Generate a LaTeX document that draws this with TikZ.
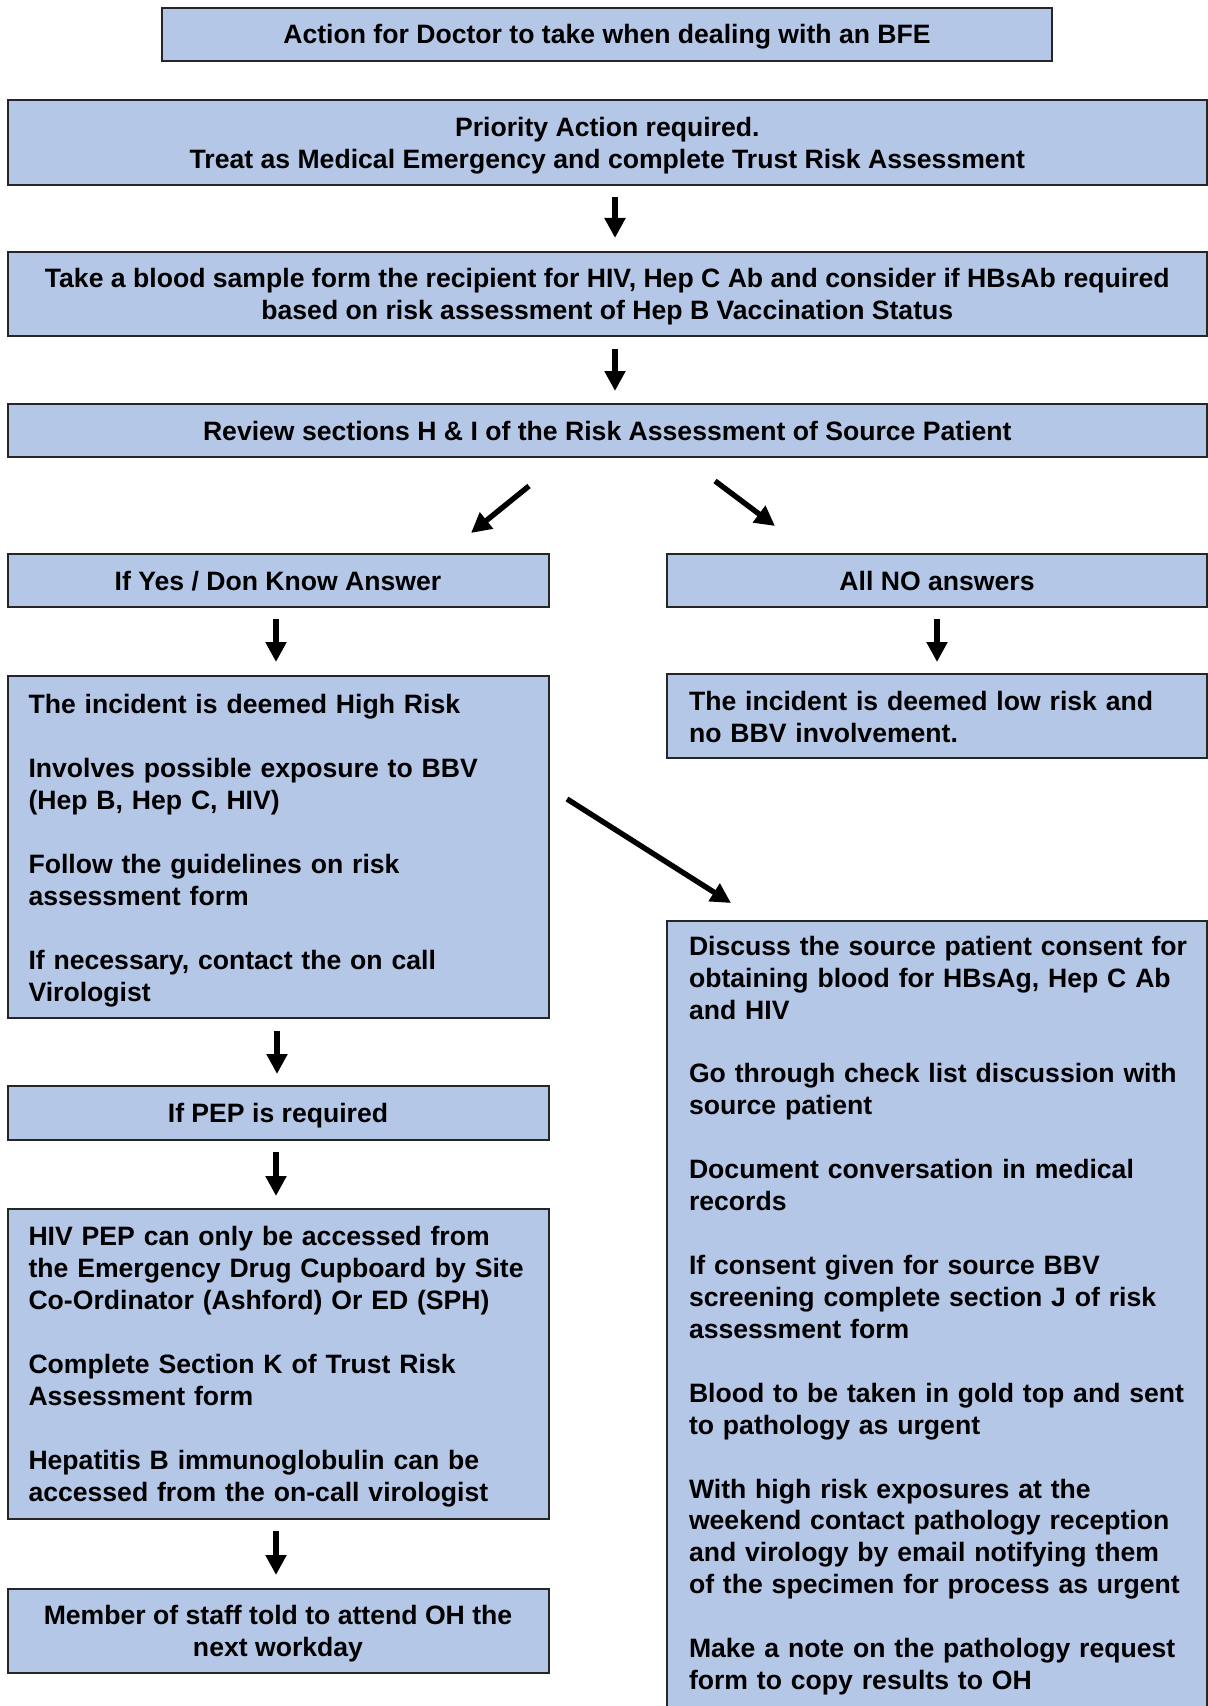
\documentclass[tikz,border=0pt]{standalone}
\usepackage{fontspec}
\setmainfont{Liberation Sans}
\usetikzlibrary{arrows.meta}
\definecolor{boxblue}{RGB}{180,199,231}
\newcommand\boxfont{\fontsize{13.3pt}{16pt}\selectfont\bfseries\hyphenpenalty=10000 \exhyphenpenalty=10000 }
\newcommand\mb[1]{\mbox{#1}}
\begin{document}
\begin{tikzpicture}[x=0.5pt,y=-0.5pt,
  box/.style={draw=black!85,line width=1pt,fill=boxblue,inner sep=0pt,font=\boxfont},
  cbox/.style={box,align=center,text depth=0pt},
  lbox/.style={box,align=left,text width=249.5pt,inner xsep=10.5pt,minimum width=270.5pt},
  rbox/.style={box,align=left,text width=248pt,inner xsep=11pt,minimum width=270pt},
  arr/.style={line width=2.7pt,-{Triangle[length=10pt,width=10pt]}}]
\useasboundingbox (0,0) rectangle (1208,1706);
\clip (0,0) rectangle (1208,1706);
\node[cbox,minimum width=445pt,minimum height=26.7pt] (t) at (607,34.3)
  {Action for Doctor to take when dealing with an BFE};
\node[cbox,minimum width=599.7pt,minimum height=42.5pt] (b2) at (607.3,142.5)
  {Priority Action required.\\Treat as Medical Emergency and complete Trust Risk Assessment};
\node[cbox,minimum width=599.7pt,minimum height=42pt] (b3) at (607.3,294)
  {Take a blood sample form the recipient for HIV, Hep C Ab and consider if HBsAb required\\based on risk assessment of Hep B Vaccination Status};
\node[cbox,minimum width=599.7pt,minimum height=26.5pt] (b4) at (607.3,430.5)
  {Review sections H \& I of the Risk Assessment of Source Patient};
\node[cbox,minimum width=270.5pt,minimum height=26.5pt] (b5l) at (278,580.5)
  {If Yes / Don Know Answer};
\node[cbox,minimum width=270pt,minimum height=26.5pt] (b5r) at (937,580.5)
  {All NO answers};
\node[lbox,minimum height=171pt] (b6l) at (278,847)
  {\rule{0pt}{13pt}\mb{The incident is deemed High Risk}\\[16pt]
   \mb{Involves possible exposure to BBV}\\\mb{(Hep B, Hep C, HIV)}\\[16pt]
   \mb{Follow the guidelines on risk}\\\mb{assessment form}\\[16pt]
   \mb{If necessary, contact the on call}\\\mb{Virologist}};
\node[rbox,minimum height=42pt] (b6r) at (937,716)
  {\rule{0pt}{10.7pt}\mb{The incident is deemed low risk and}\\\mb{no BBV involvement.}};
\node[rbox,anchor=north,inner ysep=7.5pt] (b7r) at (937,920)
  {\mb{Discuss the source patient consent for}\\[-0.05pt]\mb{obtaining blood for HBsAg, Hep C Ab}\\[-0.05pt]\mb{and HIV}\\[15.95pt]
   \mb{Go through check list discussion with}\\[-0.05pt]\mb{source patient}\\[15.95pt]
   \mb{Document conversation in medical}\\[-0.05pt]\mb{records}\\[15.95pt]
   \mb{If consent given for source BBV}\\[-0.05pt]\mb{screening complete section J of risk}\\[-0.05pt]\mb{assessment form}\\[15.95pt]
   \mb{Blood to be taken in gold top and sent}\\[-0.05pt]\mb{to pathology as urgent}\\[15.95pt]
   \mb{With high risk exposures at the}\\[-0.05pt]\mb{weekend contact pathology reception}\\[-0.05pt]\mb{and virology by email notifying them}\\[-0.05pt]\mb{of the specimen for process as urgent}\\[15.95pt]
   \mb{Make a note on the pathology request}\\[-0.05pt]\mb{form to copy results to OH}\\[6pt]};
\node[cbox,minimum width=270.5pt,minimum height=27pt] (b7l) at (278,1113)
  {If PEP is required};
\node[lbox,minimum height=155pt] (b8l) at (278,1364)
  {\rule{0pt}{12.4pt}\mb{HIV PEP can only be accessed from}\\\mb{the Emergency Drug Cupboard by Site}\\\mb{Co-Ordinator (Ashford) Or ED (SPH)}\\[16pt]
   \mb{Complete Section K of Trust Risk}\\\mb{Assessment form}\\[16pt]
   \mb{Hepatitis B immunoglobulin can be}\\\mb{accessed from the on-call virologist}};
\node[cbox,minimum width=270.5pt,minimum height=42pt] (b9l) at (278,1631)
  {Member of staff told to attend OH the\\next workday};
% connectors
\draw[arr] ([shift={(7.7,11)}]b2.south) -- ([shift={(7.7,-13)}]b3.north);
\draw[arr] ([shift={(7.7,12)}]b3.south) -- ([shift={(7.7,-12)}]b4.north);
\draw[arr] ([shift={(-78.3,28)}]b4.south) -- ([shift={(193,-20)}]b5l.north);
\draw[arr] ([shift={(107.7,23)}]b4.south) -- ([shift={(-162,-27)}]b5r.north);
\draw[arr] ([shift={(-2,11)}]b5l.south) -- ([shift={(-2,-13)}]b6l.north);
\draw[arr] ([shift={(0,11)}]b5r.south) -- ([shift={(0,-11)}]b6r.north);
\draw[arr] ([shift={(17.5,-48)}]b6l.east) -- ([shift={(-206,-17)}]b7r.north);
\draw[arr] ([shift={(-1,12)}]b6l.south) -- ([shift={(-1,-11)}]b7l.north);
\draw[arr] ([shift={(-2,11)}]b7l.south) -- ([shift={(-2,-12)}]b8l.north);
\draw[arr] ([shift={(-2,11)}]b8l.south) -- ([shift={(-2,-13)}]b9l.north);
\end{tikzpicture}
\end{document}
